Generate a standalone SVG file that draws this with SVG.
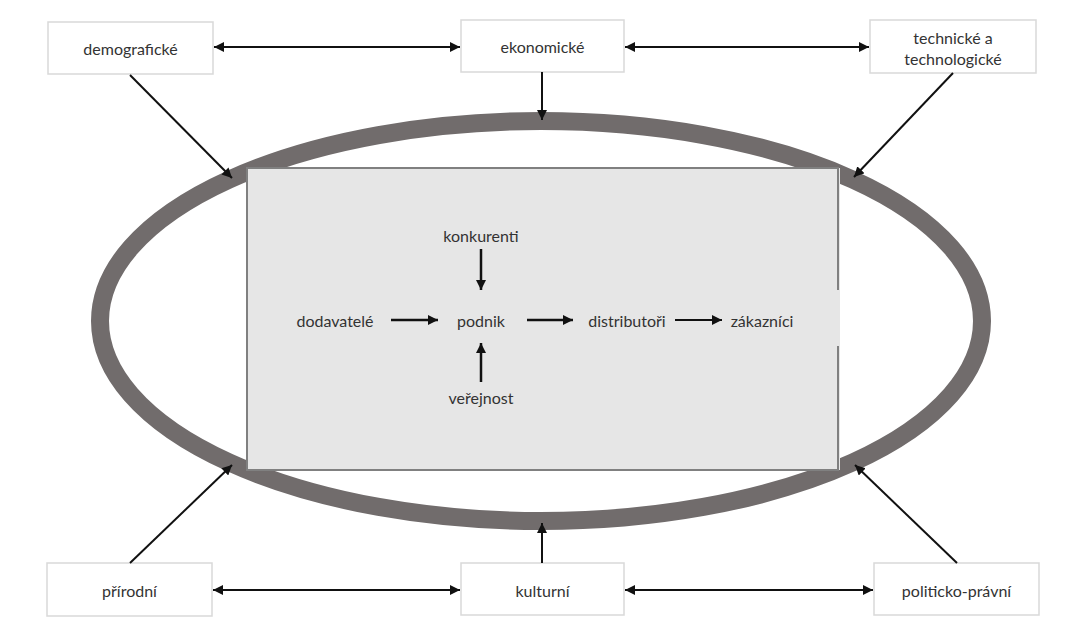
<svg xmlns="http://www.w3.org/2000/svg" width="1086" height="628" viewBox="0 0 1086 628">
<style>
.box{fill:#ffffff;stroke:#d9d9d9;stroke-width:1.5}
.t{font-family:Lato,"Open Sans","Liberation Sans",sans-serif;font-size:16px;fill:#333333;text-anchor:middle;dominant-baseline:central}
.c{stroke:#111;stroke-width:2;fill:none}
.ci{stroke:#111;stroke-width:2.5;fill:none}
</style>
<defs>
<marker id="ah" viewBox="0 0 10 10" refX="10" refY="5" markerWidth="10" markerHeight="10" markerUnits="userSpaceOnUse" orient="auto-start-reverse">
<path d="M0,0 L10,5 L0,10 z" fill="#111"/>
</marker>
</defs>
<rect width="1086" height="628" fill="#ffffff"/>
<g id="environment">
<ellipse cx="541" cy="321" rx="441" ry="200" fill="none" stroke="#716c6c" stroke-width="18"/>
</g>
<g id="micro">
<rect x="247" y="168" width="593" height="302" fill="#e6e6e6"/>
<path d="M838,290 L838,168 L247,168 L247,470 L838,470 L838,346" fill="none" stroke="#808080" stroke-width="2"/>
</g>
<g id="n-demograficke"><rect class="box" x="48" y="22" width="165" height="52"/><text class="t" x="130.5" y="48">demografické</text></g>
<g id="n-ekonomicke"><rect class="box" x="461" y="20" width="163" height="52"/><text class="t" x="542.5" y="46">ekonomické</text></g>
<g id="n-technicke"><rect class="box" x="870" y="20" width="166" height="53"/><text class="t" x="953" y="37">technické a</text><text class="t" x="953" y="58">technologické</text></g>
<g id="n-prirodni"><rect class="box" x="47" y="563" width="165" height="53"/><text class="t" x="129.5" y="590">přírodní</text></g>
<g id="n-kulturni"><rect class="box" x="461" y="563" width="163" height="52"/><text class="t" x="542.5" y="590">kulturní</text></g>
<g id="n-politicko"><rect class="box" x="874" y="563" width="165" height="52"/><text class="t" x="956.5" y="590">politicko-právní</text></g>
<g id="n-konkurenti"><text class="t" x="481" y="235">konkurenti</text></g>
<g id="n-dodavatele"><text class="t" x="335" y="320">dodavatelé</text></g>
<g id="n-podnik"><text class="t" x="481" y="320">podnik</text></g>
<g id="n-verejnost"><text class="t" x="481" y="397">veřejnost</text></g>
<g id="n-distributori"><text class="t" x="627" y="320">distributoři</text></g>
<g id="n-zakaznici"><text class="t" x="762" y="320">zákazníci</text></g>
<g id="connectors">
<line class="c" x1="214" y1="47" x2="460" y2="47" marker-start="url(#ah)" marker-end="url(#ah)"/>
<line class="c" x1="625" y1="47" x2="869" y2="47" marker-start="url(#ah)" marker-end="url(#ah)"/>
<line class="c" x1="213" y1="590" x2="460" y2="590" marker-start="url(#ah)" marker-end="url(#ah)"/>
<line class="c" x1="625" y1="590" x2="873" y2="590" marker-start="url(#ah)" marker-end="url(#ah)"/>
<line class="c" x1="542" y1="72" x2="542" y2="120" marker-end="url(#ah)"/>
<line class="c" x1="542" y1="563" x2="542" y2="523" marker-end="url(#ah)"/>
<line class="c" x1="130" y1="75" x2="232" y2="178" marker-end="url(#ah)"/>
<line class="c" x1="953" y1="73" x2="854" y2="177" marker-end="url(#ah)"/>
<line class="c" x1="130" y1="563" x2="232" y2="465" marker-end="url(#ah)"/>
<line class="c" x1="957" y1="563" x2="855" y2="465" marker-end="url(#ah)"/>
<line class="ci" x1="481" y1="249" x2="481" y2="290" marker-end="url(#ah)"/>
<line class="ci" x1="481" y1="382" x2="481" y2="343" marker-end="url(#ah)"/>
<line class="ci" x1="391" y1="320" x2="438" y2="320" marker-end="url(#ah)"/>
<line class="ci" x1="527" y1="320" x2="573" y2="320" marker-end="url(#ah)"/>
<line class="c" x1="675" y1="320" x2="722" y2="320" marker-end="url(#ah)"/>
</g>
</svg>
